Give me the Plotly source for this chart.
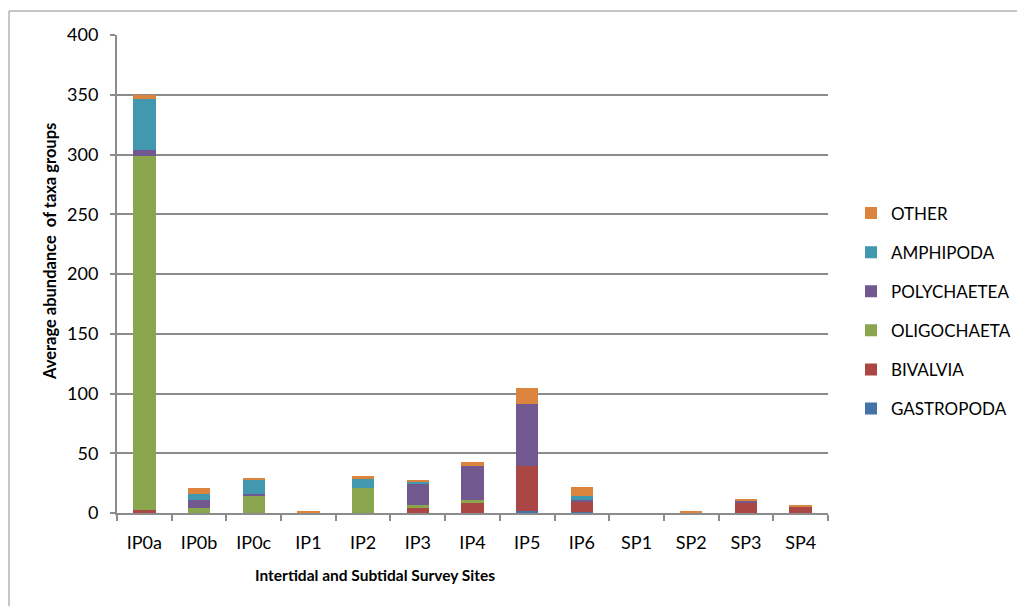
import plotly.graph_objects as go

sites = ["IP0a", "IP0b", "IP0c", "IP1", "IP2", "IP3", "IP4", "IP5", "IP6",
         "SP1", "SP2", "SP3", "SP4"]

gastropoda  = [0,   0,   0,    0, 0,    0,    0,    2,  0.5, 0, 0,   0,   0]
bivalvia    = [2.5, 0.3, 0,    0, 0,    5,    8.2,  37, 9,   0, 0,   9,   5.2]
oligochaeta = [296, 3.6, 14.5, 0, 21,   1.4,  3,    0,  0,   0, 0,   0,   0]
polychaetea = [5,   6.7, 1.4,  0, 0,    18,   28,   52, 1,   0, 0,   1.2, 0]
amphipoda   = [43,  5.3, 12.3, 0, 7.5,  1.7,  0,    0,  3.9, 0, 0,   0,   0]
other       = [3.5, 5.3, 1,    2, 2.8,  1.1,  3.1,  14, 7.3, 0, 2,   1.1, 1.1]

groups = [
    ("GASTROPODA", gastropoda, "#4572A7"),
    ("BIVALVIA", bivalvia, "#AA4643"),
    ("OLIGOCHAETA", oligochaeta, "#89A54E"),
    ("POLYCHAETEA", polychaetea, "#71588F"),
    ("AMPHIPODA", amphipoda, "#4198AF"),
    ("OTHER", other, "#DB843D"),
]

FONT = "Lato, Calibri, Carlito, sans-serif"
grid = "#8C8C8C"

# plot area in pixels: x 117..828, y 35..513
L, R, T, B = 117, 828, 35, 513
W, H = R - L, B - T

fig = go.Figure()
n = len(groups)
for i, (name, vals, color) in enumerate(groups):
    fig.add_trace(go.Bar(
        x=sites, y=vals, name=name, legendgroup=name,
        legendrank=n - i,  # top of the stack listed first
        marker=dict(color=color, line=dict(width=0)),
    ))

fig.update_layout(
    width=1017, height=606,
    barmode="stack", bargap=0.59,
    plot_bgcolor="white", paper_bgcolor="white",
    margin=dict(l=L, r=1017 - R, t=T, b=606 - B, autoexpand=False),
    font=dict(family=FONT, size=17, color="#000000"),
    legend=dict(
        traceorder="grouped", tracegroupgap=14,
        x=(851 - L) / W, y=(B - 311) / H, xanchor="left", yanchor="middle",
        font=dict(size=17, family=FONT),
    ),
    xaxis=dict(
        type="category", tickson="boundaries", ticks="outside", ticklen=6,
        tickcolor=grid, tickwidth=1.5,
        showline=True, linecolor=grid, linewidth=2,
        showgrid=False,
        tickfont=dict(size=18, family=FONT),
        ticklabelstandoff=12,
    ),
    yaxis=dict(
        range=[0, 400], dtick=50, ticks="outside", ticklen=5,
        tickcolor=grid, tickwidth=1.5,
        showline=True, linecolor=grid, linewidth=2,
        showgrid=True, gridcolor=grid, gridwidth=2,
        zeroline=False,
        tickfont=dict(size=18, family=FONT),
        ticklabelstandoff=8,
    ),
    annotations=[
        dict(text="<b>Intertidal and Subtidal Survey Sites</b>",
             xref="paper", yref="paper",
             x=(375 - L) / W, y=(B - 575) / H,
             xanchor="center", yanchor="middle", showarrow=False,
             font=dict(size=15.5, family=FONT)),
        dict(text="<b>Average abundance  of taxa groups</b>",
             xref="paper", yref="paper",
             x=(50 - L) / W, y=(B - 252) / H, textangle=-90,
             xanchor="center", yanchor="middle", showarrow=False,
             font=dict(size=16.5, family=FONT)),
    ],
    shapes=[dict(
        type="rect", xref="paper", yref="paper",
        x0=(9 - L) / W, x1=(1030 - L) / W,
        y0=(B - 620) / H, y1=(B - 11) / H,
        line=dict(color=grid, width=1), fillcolor="rgba(0,0,0,0)",
        layer="below",
    )],
)

fig.write_html("out.html")
